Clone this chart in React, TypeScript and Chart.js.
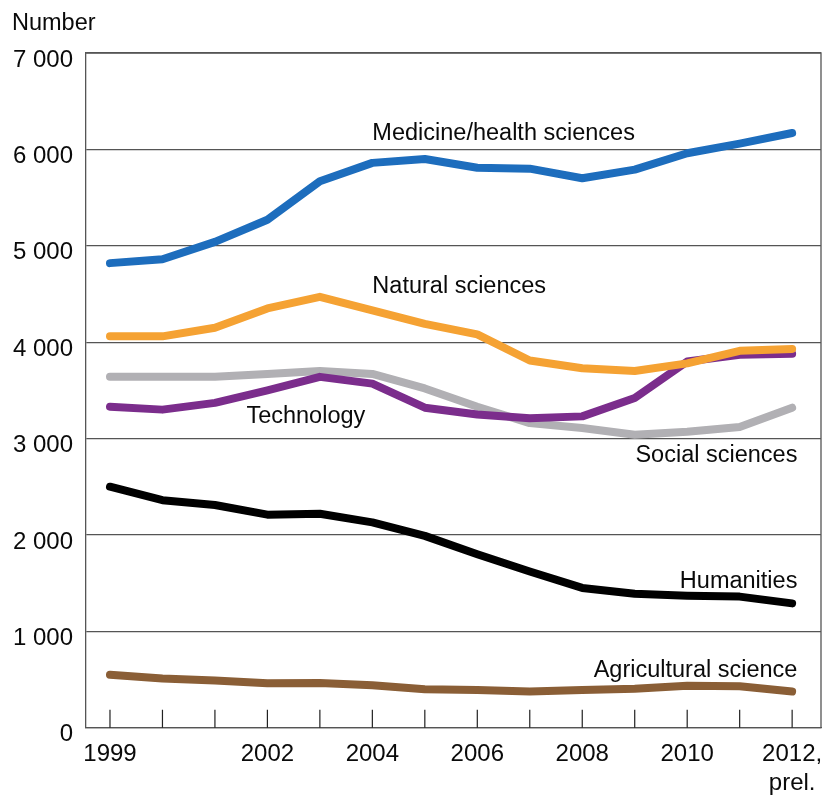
import React, { useEffect, useRef } from 'react';
import { Chart, registerables } from 'chart.js';

Chart.register(...registerables);

// ---- data ----
const years = [1999, 2000, 2001, 2002, 2003, 2004, 2005, 2006, 2007, 2008, 2009, 2010, 2011, 2012];

const medicine = [4820, 4860, 5040, 5270, 5670, 5860, 5900, 5810, 5800, 5700, 5790, 5960, 6060, 6170];
const natural = [4060, 4060, 4150, 4350, 4470, 4330, 4190, 4080, 3810, 3730, 3700, 3780, 3910, 3930];
const technology = [3330, 3300, 3370, 3500, 3640, 3570, 3320, 3250, 3210, 3230, 3420, 3800, 3870, 3880];
const social = [3640, 3640, 3640, 3670, 3700, 3670, 3520, 3330, 3160, 3110, 3040, 3070, 3120, 3320];
const humanities = [2500, 2360, 2310, 2210, 2220, 2130, 1990, 1800, 1620, 1450, 1390, 1370, 1360, 1290];
const agricultural = [550, 510, 490, 460, 465, 440, 400, 390, 375, 390, 405, 435, 430, 375];

const seriesNames = [
  'Medicine/health sciences',
  'Natural sciences',
  'Technology',
  'Social sciences',
  'Humanities',
  'Agricultural science',
];
const seriesValues = [medicine, natural, technology, social, humanities, agricultural];
const seriesColors = ['#1d6dbd', '#f5a233', '#7b2d8c', '#b1b0b4', '#000000', '#8a5e36'];

const tickYears = [1999, 2002, 2004, 2006, 2008, 2010, 2012];
const tickLabels: (string | string[])[] = ['1999', '2002', '2004', '2006', '2008', '2010', ['2012,', 'prel.']];
const yAxisTitle = 'Number';

// label anchors (data coordinates: year, value at text baseline)
const labelYear = [2004.0, 2004.0, 2001.6, 2012.1, 2012.1, 2012.1];
const labelValue = [6100, 4509, 3166, 2761, 1447, 529];
const labelAlign: CanvasTextAlign[] = ['left', 'left', 'left', 'right', 'right', 'right'];

const FONT = '"Liberation Sans", Arial, Helvetica, sans-serif';

const fmt = (v: number) => {
  if (v === 0) return '0';
  const th = Math.floor(v / 1000);
  const rest = String(v % 1000).padStart(3, '0');
  return `${th} ${rest}`;
};

const decorPlugin = {
  id: 'decor',
  beforeDatasetsDraw(chart: any) {
    const { ctx, chartArea: a, scales } = chart;
    const x = scales.x;
    ctx.save();
    ctx.strokeStyle = '#555555';
    ctx.lineWidth = 1.3;
    ctx.beginPath();
    ctx.moveTo(a.left, a.top);
    ctx.lineTo(a.right, a.top);
    ctx.lineTo(a.right, a.bottom);
    ctx.stroke();
    ctx.strokeStyle = '#222222';
    ctx.lineWidth = 1.2;
    ctx.beginPath();
    years.forEach((yr) => {
      const px = x.getPixelForValue(yr);
      ctx.moveTo(px, a.bottom);
      ctx.lineTo(px, a.bottom - 18);
    });
    ctx.stroke();
    ctx.restore();
  },
  afterDatasetsDraw(chart: any) {
    const { ctx, scales } = chart;
    const x = scales.x;
    const y = scales.y;
    ctx.save();
    ctx.fillStyle = '#0a0a0a';
    ctx.font = `23.5px ${FONT}`;
    ctx.textBaseline = 'alphabetic';
    seriesNames.forEach((name, i) => {
      ctx.textAlign = labelAlign[i];
      ctx.fillText(name, x.getPixelForValue(labelYear[i]), y.getPixelForValue(labelValue[i]));
    });
    ctx.textAlign = 'left';
    ctx.fillText(yAxisTitle, 12, 30);
    ctx.restore();
  },
};

export default function App() {
  const ref = useRef<HTMLCanvasElement | null>(null);

  useEffect(() => {
    if (!ref.current) return;
    const chart = new Chart(ref.current, {
      type: 'line',
      data: {
        datasets: seriesNames.map((name, i) => ({
          label: name,
          data: years.map((yr, j) => ({ x: yr, y: seriesValues[i][j] })),
          borderColor: seriesColors[i],
          backgroundColor: seriesColors[i],
          borderWidth: 8,
          pointRadius: 0,
          borderCapStyle: 'round' as const,
          borderJoinStyle: 'round' as const,
          tension: 0,
          fill: false,
        })),
      },
      options: {
        responsive: false,
        animation: false,
        devicePixelRatio: 1,
        layout: { padding: { left: 0, top: 53, right: 5, bottom: 0 } },
        plugins: {
          legend: { display: false },
          tooltip: { enabled: false },
          title: { display: false },
        },
        scales: {
          x: {
            type: 'linear',
            min: 1998.543,
            max: 2012.55,
            afterFit: (s: any) => {
              s.height = 67.3;
              s.paddingLeft = 0;
              s.paddingRight = 0;
            },
            afterBuildTicks: (s: any) => {
              s.ticks = tickYears.map((v) => ({ value: v }));
            },
            ticks: {
              autoSkip: false,
              maxRotation: 0,
              padding: 12,
              color: '#0a0a0a',
              font: { family: FONT, size: 24, lineHeight: 1.22 },
              callback: (v: any) => {
                const idx = tickYears.indexOf(Number(v));
                return idx >= 0 ? tickLabels[idx] : '';
              },
            },
            grid: { display: false, drawTicks: false },
            border: { display: true, color: '#555555', width: 1.3 },
          },
          y: {
            min: 0,
            max: 7000,
            afterFit: (s: any) => {
              s.width = 86;
              s.paddingTop = 0;
              s.paddingBottom = 0;
            },
            ticks: {
              stepSize: 1000,
              padding: 13,
              labelOffset: 7,
              color: '#0a0a0a',
              font: { family: FONT, size: 24 },
              callback: (v: any) => fmt(Number(v)),
            },
            grid: { color: '#555555', lineWidth: 1.3, drawTicks: false },
            border: { display: true, color: '#555555', width: 1.3 },
          },
        },
      },
      plugins: [decorPlugin],
    });
    return () => chart.destroy();
  }, []);

  return (
    <div style={{ position: 'fixed', left: 0, top: 0, width: 826, height: 795, background: '#ffffff' }}>
      <canvas ref={ref} width={826} height={795} style={{ width: 826, height: 795, display: 'block' }} />
    </div>
  );
}
